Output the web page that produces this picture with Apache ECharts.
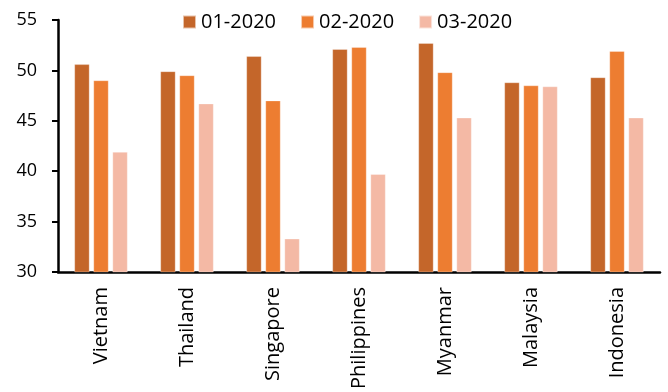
<!DOCTYPE html>
<html>
<head>
<meta charset="utf-8">
<script src="https://cdn.jsdelivr.net/npm/echarts@6/dist/echarts.min.js"></script>
<style>
  html, body { margin: 0; padding: 0; background: #fff; }
  #chart { width: 668px; height: 392px; }
</style>
</head>
<body>
<div id="chart"></div>
<script>
// Manufacturing PMI by country, three months of 2020
const countries = ['Vietnam', 'Thailand', 'Singapore', 'Philippines', 'Myanmar', 'Malaysia', 'Indonesia'];
const seriesNames = ['01-2020', '02-2020', '03-2020'];
const jan2020 = [50.6, 49.9, 51.4, 52.1, 52.7, 48.8, 49.3];
const feb2020 = [49.0, 49.5, 47.0, 52.3, 49.8, 48.5, 51.9];
const mar2020 = [41.9, 46.7, 33.3, 39.7, 45.3, 48.4, 45.3];
const yTicks = [30, 35, 40, 45, 50, 55];

const colors = ['#C4662A', '#ED7D31', '#F4B9A5'];
const font = '"Open Sans", "Noto Sans", sans-serif';

const chart = echarts.init(document.getElementById('chart'));

function barSeries(name, data, color) {
  return {
    name: name,
    type: 'bar',
    data: data,
    barWidth: 15,
    barGap: '27%',
    itemStyle: { color: color, borderColor: 'rgba(255,255,255,0.6)', borderWidth: 0.5 }
  };
}

chart.setOption({
  animation: false,
  color: colors,
  legend: {
    top: 7,
    left: 177,
    itemWidth: 13,
    itemHeight: 13,
    itemGap: 24,
    icon: 'rect',
    textStyle: { fontFamily: font, fontSize: 20, color: '#000', padding: [0, 0, 0, 0] },
    data: seriesNames
  },
  grid: { left: 58, right: 8, top: 20, bottom: 120, containLabel: false },
  xAxis: {
    type: 'category',
    data: countries,
    axisLine: { lineStyle: { color: '#000', width: 2.5 } },
    axisTick: { show: false },
    axisLabel: { rotate: 90, fontFamily: font, fontSize: 20, color: '#000', margin: 15 }
  },
  yAxis: {
    type: 'value',
    min: yTicks[0],
    max: yTicks[yTicks.length - 1],
    interval: 5,
    splitLine: { show: false },
    axisLine: { show: true, lineStyle: { color: '#000', width: 2.5 } },
    axisTick: { show: true, length: 6, lineStyle: { color: '#000', width: 2 } },
    axisLabel: { fontFamily: font, fontSize: 18, color: '#000', margin: 21 }
  },
  series: [
    barSeries(seriesNames[0], jan2020, colors[0]),
    barSeries(seriesNames[1], feb2020, colors[1]),
    barSeries(seriesNames[2], mar2020, colors[2])
  ]
});
</script>
</body>
</html>
